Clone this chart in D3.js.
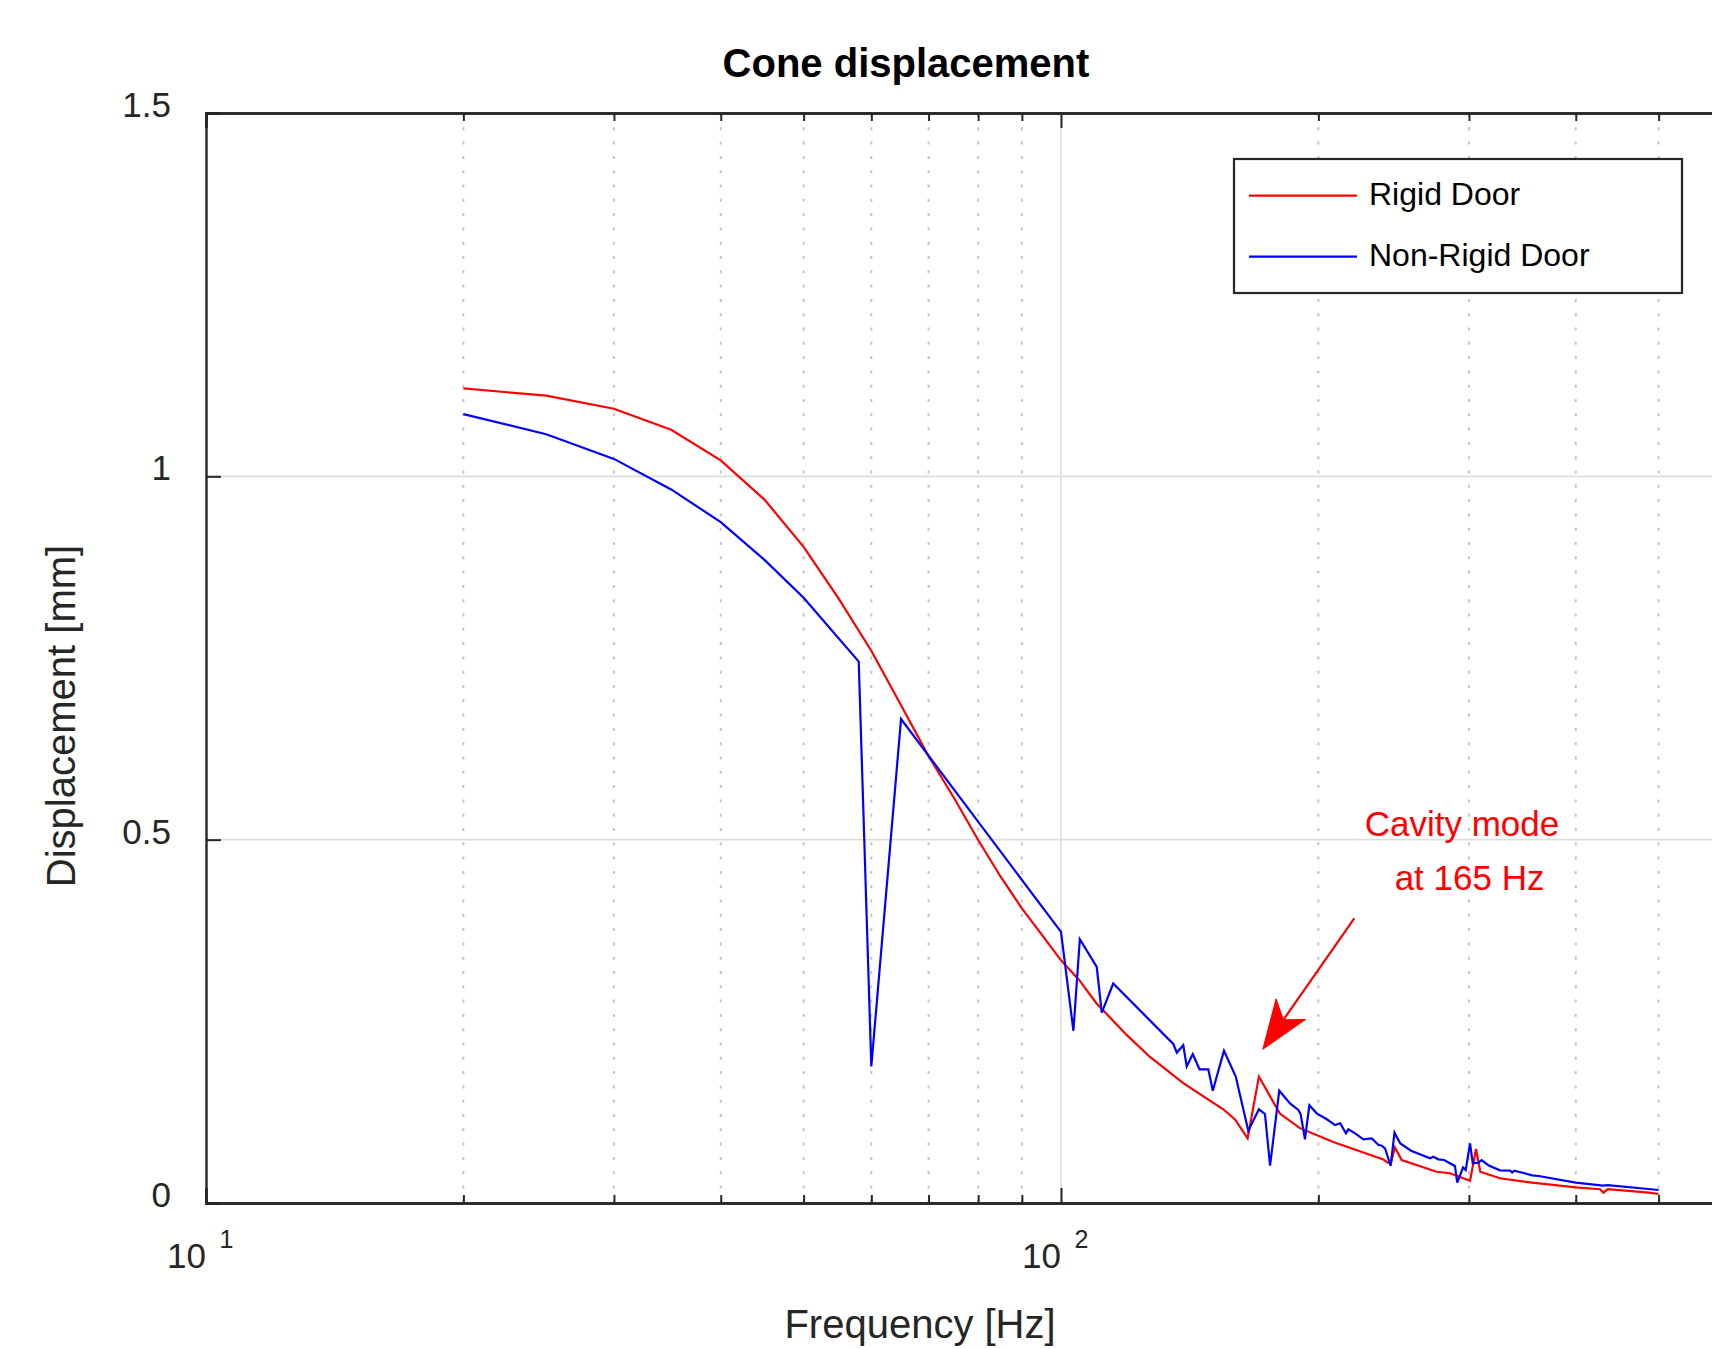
<!DOCTYPE html>
<html>
<head>
<meta charset="utf-8">
<script src="https://cdn.jsdelivr.net/npm/d3@7"></script>
<style>
  html, body { margin: 0; padding: 0; background: #ffffff; }
  svg { display: block; }
  text { font-family: "Liberation Sans", Arial, Helvetica, sans-serif; }
</style>
</head>
<body>
<svg id="chart" width="1712" height="1349"></svg>
<script>
// ---------------- DATA ----------------
const titleText = "Cone displacement";
const xLabelText = "Frequency [Hz]";
const yLabelText = "Displacement [mm]";
const seriesNames = ["Rigid Door", "Non-Rigid Door"];
const seriesColors = ["#ff0000", "#0000ff"];

const freqRigid = [20, 25, 30, 35, 40, 45, 50, 55, 60, 65, 70, 75, 80, 85, 90, 95, 100, 105, 110, 119.4, 127.1, 139, 154.8, 159.8, 165.3, 170.4, 180.3, 190.3, 208.2, 238.2, 240.4, 243.0, 245.8, 250.3, 275, 285.1, 300.9, 305.8, 309.3, 326.1, 355.6, 400, 427, 431, 436, 487, 500];
const dispRigid = [1.121, 1.111, 1.093, 1.064, 1.022, 0.968, 0.903, 0.831, 0.760, 0.685, 0.615, 0.557, 0.4995, 0.449, 0.4055, 0.369, 0.334, 0.307, 0.275, 0.231, 0.201, 0.165, 0.129, 0.115, 0.089, 0.174, 0.123, 0.103, 0.084, 0.060, 0.0565, 0.054, 0.0765, 0.059, 0.043, 0.041, 0.0307, 0.0743, 0.0431, 0.034, 0.028, 0.0216, 0.019, 0.0142, 0.019, 0.0142, 0.0124];

const freqNonRigid = [20, 25, 30, 35, 40, 45, 50, 58, 60, 65, 100, 103.4, 105.2, 110.1, 111.6, 115.1, 135.3, 136.6, 139.0, 140.3, 142.6, 145.2, 148.7, 150.5, 155.1, 160.1, 165.6, 170.4, 173.2, 175.6, 180.0, 185.3, 189.5, 190.7, 192.9, 195.2, 199.1, 204.6, 209.2, 212.1, 215.4, 216.8, 220.8, 225.8, 230.9, 235.0, 237.2, 239.3, 243.0, 245.5, 249.4, 256.7, 270.2, 272.6, 276.3, 280.6, 288.9, 290.7, 295.3, 297.4, 300.9, 303.1, 307.6, 310.4, 316.1, 326.1, 335.3, 337, 339, 355.6, 362, 400, 430.5, 436, 500];
const dispNonRigid = [1.0857, 1.058, 1.024, 0.982, 0.937, 0.885, 0.833, 0.745, 0.188, 0.666, 0.373, 0.237, 0.363, 0.325, 0.262, 0.302, 0.219, 0.207, 0.217, 0.188, 0.205, 0.184, 0.184, 0.1545, 0.2096, 0.174, 0.0995, 0.129, 0.1225, 0.0513, 0.1545, 0.137, 0.128, 0.122, 0.0876, 0.1344, 0.1234, 0.1152, 0.1073, 0.1097, 0.0959, 0.1014, 0.0959, 0.0876, 0.089, 0.080, 0.0789, 0.0753, 0.051, 0.0968, 0.082, 0.072, 0.0615, 0.0637, 0.0601, 0.0592, 0.051, 0.028, 0.049, 0.0454, 0.082, 0.0546, 0.0555, 0.059, 0.052, 0.045, 0.0445, 0.042, 0.0445, 0.0381, 0.0372, 0.028, 0.0238, 0.0245, 0.0179];

const xDomain = [10, 1000];
const yDomain = [0, 1.5];
const xMajorTicks = [10, 100, 1000];
const xLabelTicks = [10, 100];
const xMajorBase = ["10", "10"];
const xMajorExp = ["1", "2"];
const xMinorTicks = [20, 30, 40, 50, 60, 70, 80, 90, 200, 300, 400, 500, 600, 700, 800, 900];
const yTicks = [0, 0.5, 1, 1.5];
const yTickLabels = ["0", "0.5", "1", "1.5"];

// annotation (data coordinates)
const annotationLines = ["Cavity mode", "at 165 Hz"];
const annotationFreq = [294.4, 300.5];
const annotationDisp = [0.5054, 0.4307];
const arrowFrom = [220.3, 0.3918];
const arrowTo = [172.2, 0.2115];

// ---------------- LAYOUT ----------------
const plotLeft = 206, plotTop = 113, plotBottom = 1203;
const decadePx = 855;
const svg = d3.select("#chart");
svg.append("rect").attr("width", 1712).attr("height", 1349).attr("fill", "#ffffff");

const x = d3.scaleLog().domain(xDomain).range([plotLeft, plotLeft + 2 * decadePx]);
const y = d3.scaleLinear().domain(yDomain).range([plotBottom, plotTop]);

const axisColor = "#262626";

// grid: minor vertical dotted
svg.append("g").selectAll("line").data(xMinorTicks).join("line")
  .attr("x1", d => x(d)).attr("x2", d => x(d))
  .attr("y1", plotTop).attr("y2", plotBottom)
  .attr("stroke", "#c4c4c4").attr("stroke-width", 2)
  .attr("stroke-dasharray", "3,11.3");

// grid: major vertical
svg.append("g").selectAll("line").data(xMajorTicks.slice(1)).join("line")
  .attr("x1", d => x(d)).attr("x2", d => x(d))
  .attr("y1", plotTop).attr("y2", plotBottom)
  .attr("stroke", "#dedede").attr("stroke-width", 1.6);

// grid: horizontal
svg.append("g").selectAll("line").data(yTicks.slice(1, -1)).join("line")
  .attr("x1", plotLeft).attr("x2", 1712)
  .attr("y1", d => y(d)).attr("y2", d => y(d))
  .attr("stroke", "#dedede").attr("stroke-width", 1.6);

// ---------------- AXES ----------------
const bottomMajor = d3.axisBottom(x).tickValues(xMajorTicks).tickSize(-15).tickFormat("");
const bottomMinor = d3.axisBottom(x).tickValues(xMinorTicks).tickSize(-8).tickFormat("");
const topMajor = d3.axisTop(x).tickValues(xMajorTicks).tickSize(-15).tickFormat("");
const topMinor = d3.axisTop(x).tickValues(xMinorTicks).tickSize(-8).tickFormat("");
const leftAxis = d3.axisLeft(y).tickValues(yTicks).tickSize(-15).tickFormat("");

function styleAxis(g) {
  g.selectAll("path").attr("stroke", axisColor).attr("stroke-width", 2.2);
  g.selectAll("line").attr("stroke", axisColor).attr("stroke-width", 2);
}
svg.append("g").attr("transform", `translate(0,${plotBottom})`).call(bottomMajor).call(styleAxis);
svg.append("g").attr("transform", `translate(0,${plotBottom})`).call(bottomMinor).call(styleAxis);
svg.append("g").attr("transform", `translate(0,${plotTop})`).call(topMajor).call(styleAxis);
svg.append("g").attr("transform", `translate(0,${plotTop})`).call(topMinor).call(styleAxis);
svg.append("g").attr("transform", `translate(${plotLeft},0)`).call(leftAxis).call(styleAxis);
svg.selectAll(".domain").attr("stroke-width", 2.4);

// y tick labels
svg.append("g").selectAll("text").data(yTicks).join("text")
  .attr("x", plotLeft - 35).attr("y", d => y(d) + 4)
  .attr("text-anchor", "end").attr("font-size", 35).attr("fill", axisColor)
  .text((d, i) => yTickLabels[i]);

// x tick labels: 10 with superscript exponent
const xl = svg.append("g");
xl.selectAll("text.base").data(xLabelTicks).join("text").attr("class", "base")
  .attr("x", d => x(d)).attr("y", 1268)
  .attr("text-anchor", "end").attr("font-size", 35).attr("fill", axisColor)
  .text((d, i) => xMajorBase[i]);
xl.selectAll("text.exp").data(xLabelTicks).join("text").attr("class", "exp")
  .attr("x", d => x(d) + 13.5).attr("y", 1248)
  .attr("text-anchor", "start").attr("font-size", 25).attr("fill", axisColor)
  .text((d, i) => xMajorExp[i]);

// ---------------- SERIES ----------------
const line = d3.line().x(d => x(d[0])).y(d => y(d[1]));
const seriesData = [
  freqRigid.map((f, i) => [f, dispRigid[i]]),
  freqNonRigid.map((f, i) => [f, dispNonRigid[i]])
];
svg.append("g").selectAll("path").data(seriesData).join("path")
  .attr("d", line)
  .attr("fill", "none")
  .attr("stroke", (d, i) => seriesColors[i])
  .attr("stroke-width", 2.2)
  .attr("stroke-linejoin", "miter");

// ---------------- TEXT ----------------
svg.append("text").attr("x", 906).attr("y", 77)
  .attr("text-anchor", "middle").attr("font-size", 40).attr("font-weight", "bold")
  .attr("fill", "#000").text(titleText);

svg.append("text").attr("x", 920).attr("y", 1338)
  .attr("text-anchor", "middle").attr("font-size", 40).attr("fill", axisColor)
  .text(xLabelText);

svg.append("text").attr("transform", "translate(75,716) rotate(-90)")
  .attr("text-anchor", "middle").attr("font-size", 40).attr("fill", axisColor)
  .text(yLabelText);

// ---------------- LEGEND ----------------
const legend = svg.append("g");
legend.append("rect").attr("x", 1234).attr("y", 159).attr("width", 448).attr("height", 134)
  .attr("fill", "#ffffff").attr("stroke", axisColor).attr("stroke-width", 2.2);
const legRows = legend.selectAll("g.row").data(seriesNames).join("g").attr("class", "row")
  .attr("transform", (d, i) => `translate(0,${195.7 + i * 61})`);
legRows.append("line").attr("x1", 1249).attr("x2", 1357).attr("y1", 0).attr("y2", 0)
  .attr("stroke", (d, i) => seriesColors[i]).attr("stroke-width", 2.2);
legRows.append("text").attr("x", 1369).attr("y", 9).attr("font-size", 32).attr("fill", "#000")
  .text(d => d);

// ---------------- ANNOTATION ----------------
svg.append("g").selectAll("text").data(annotationLines).join("text")
  .attr("x", (d, i) => x(annotationFreq[i])).attr("y", (d, i) => y(annotationDisp[i]))
  .attr("text-anchor", "middle").attr("font-size", 35).attr("fill", "#ff0000")
  .text(d => d);

const ax0 = x(arrowFrom[0]), ay0 = y(arrowFrom[1]);
const ax1 = x(arrowTo[0]), ay1 = y(arrowTo[1]);
const len = Math.hypot(ax1 - ax0, ay1 - ay0);
const ux = (ax1 - ax0) / len, uy = (ay1 - ay0) / len;
const px = -uy, py = ux;
const headBack = 49, headHalf = 18, notchBack = 36;
const notch = [ax1 - ux * notchBack, ay1 - uy * notchBack];
svg.append("line").attr("x1", ax0).attr("y1", ay0).attr("x2", notch[0]).attr("y2", notch[1])
  .attr("stroke", "#ff0000").attr("stroke-width", 2.2);
const head = [
  [ax1, ay1],
  [ax1 - ux * headBack + px * headHalf, ay1 - uy * headBack + py * headHalf],
  notch,
  [ax1 - ux * headBack - px * headHalf, ay1 - uy * headBack - py * headHalf]
];
svg.append("polygon").attr("points", head.map(p => p.join(",")).join(" "))
  .attr("fill", "#ff0000").attr("stroke", "#ff0000").attr("stroke-width", 1);
</script>
</body>
</html>
